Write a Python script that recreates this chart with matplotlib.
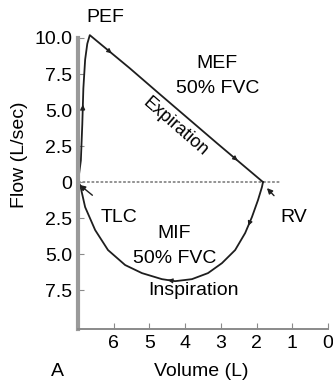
import numpy as np
import matplotlib
matplotlib.use('Agg')
import matplotlib.pyplot as plt

plt.rcParams['font.family'] = ['Liberation Sans', 'DejaVu Sans']

# flow-volume loop (volume in L, flow in L/sec)
exp_vol = [7.0, 6.92, 6.88, 6.85, 6.80, 6.74, 6.67, 5.55, 4.71, 3.11, 1.82]
exp_flow = [0.0, 1.5, 4.0, 6.5, 8.5, 9.6, 10.2, 7.9, 6.1, 2.7, 0.0]
insp_vol = [1.82, 1.85, 1.96, 2.13, 2.32, 2.60, 2.97, 3.36, 3.81, 4.28, 4.65,
            5.21, 5.68, 6.16, 6.52, 6.80, 6.94, 7.0]
insp_flow = [0.0, -0.35, -1.25, -2.43, -3.54, -4.72, -5.63, -6.32, -6.74, -6.88,
             -6.74, -6.32, -5.76, -4.72, -3.33, -1.74, -0.21, 0.0]

y_ticks = [10, 7.5, 5, 2.5, 0, -2.5, -5, -7.5]
y_labels = ['10.0', '7.5', '5.0', '2.5', '0', '2.5', '5.0', '7.5']
x_ticks = [6, 5, 4, 3, 2, 1, 0]

W, H = 333, 383
fig = plt.figure(figsize=(W / 100, H / 100), dpi=100)
ax = fig.add_axes([78 / W, 1 - 329 / H, 250 / W, 291 / H])
ax.set_xlim(7.0, 0)
ax.set_ylim(-10.2, 10.0)

line_c = '#1e1e1e'
grey = '#8a8a8a'
fs = 14

ax.hlines(0, 7.0, 1.35, color=grey, linewidth=1.3, linestyles=(0, (1.5, 1)))
ax.plot(exp_vol, exp_flow, color=line_c, linewidth=1.3, clip_on=False)
ax.plot(insp_vol, insp_flow, color=line_c, linewidth=1.3, clip_on=False)

# small direction arrows along the loop
def arrow_at(xs, ys, i, frac=0.5):
    x0 = xs[i] + (xs[i + 1] - xs[i]) * (frac - 0.05)
    y0 = ys[i] + (ys[i + 1] - ys[i]) * (frac - 0.05)
    x1 = xs[i] + (xs[i + 1] - xs[i]) * (frac + 0.05)
    y1 = ys[i] + (ys[i + 1] - ys[i]) * (frac + 0.05)
    ax.annotate('', xy=(x1, y1), xytext=(x0, y0),
                arrowprops=dict(arrowstyle='-|>', color=line_c, lw=0.8,
                                mutation_scale=7, shrinkA=0, shrinkB=0))

arrow_at(exp_vol, exp_flow, 2)
arrow_at(exp_vol, exp_flow, 6, 0.5)
arrow_at(exp_vol, exp_flow, 9, 0.4)
arrow_at(insp_vol, insp_flow, 3)
arrow_at(insp_vol, insp_flow, 9)

for side in ['top', 'right']:
    ax.spines[side].set_visible(False)
ax.spines['left'].set_color('#9a9a9a')
ax.spines['left'].set_linewidth(3)
ax.spines['bottom'].set_color(grey)
ax.spines['bottom'].set_linewidth(1.4)
ax.spines['bottom'].set_linestyle((0, (1.5, 1)))

ax.set_yticks(y_ticks)
ax.set_yticklabels(y_labels)
ax.set_xticks(x_ticks)
ax.tick_params(direction='in', length=4, color=grey, labelsize=fs, pad=4)

ax.text(6.24, 11.4, 'PEF', fontsize=fs, ha='center', va='center')
ax.text(3.11, 8.2, 'MEF', fontsize=fs, ha='center', va='center')
ax.text(3.08, 6.5, '50% FVC', fontsize=fs, ha='center', va='center')
ax.text(4.28, 3.85, 'Expiration', fontsize=fs - 1, ha='center', va='center',
        rotation=-41, rotation_mode='anchor')
ax.text(4.31, -3.6, 'MIF', fontsize=fs, ha='center', va='center')
ax.text(4.29, -5.3, '50% FVC', fontsize=fs, ha='center', va='center')
ax.text(3.78, -7.5, 'Inspiration', fontsize=fs, ha='center', va='center')

ax.annotate('TLC', xy=(6.95, -0.2), xytext=(5.85, -2.43), fontsize=fs,
            ha='center', va='center',
            arrowprops=dict(arrowstyle='-|>', color=line_c, lw=1,
                            mutation_scale=8, shrinkA=12, shrinkB=0))
ax.annotate('RV', xy=(1.71, -0.42), xytext=(0.95, -2.43), fontsize=fs,
            ha='center', va='center',
            arrowprops=dict(arrowstyle='-|>', color=line_c, lw=1,
                            mutation_scale=8, shrinkA=10, shrinkB=0))

fig.text(20 / W, 1 - 155 / H, 'Flow (L/sec)', fontsize=fs, rotation=90,
         ha='center', va='center')
fig.text(201 / W, 1 - 372 / H, 'Volume (L)', fontsize=fs, ha='center', va='center')
fig.text(57 / W, 1 - 372 / H, 'A', fontsize=fs, ha='center', va='center')

fig.savefig('out.png', dpi=100)
